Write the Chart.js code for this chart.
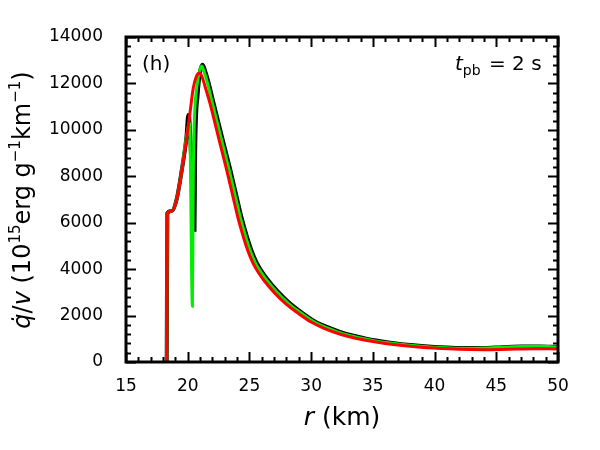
<!DOCTYPE html>
<html>
<head>
<meta charset="utf-8">
<script src="https://cdn.jsdelivr.net/npm/chart.js@4.4.0/dist/chart.umd.min.js"></script>
<style>
  html, body { margin: 0; padding: 0; background: #fff; }
</style>
</head>
<body>
<canvas id="grafico" width="600" height="450"></canvas>
<script>
// Radio (km) y q/v para cada curva, leidos a ojo de la figura
var rRojo = [18.3, 18.35, 18.7, 19.1, 19.5, 19.9, 20.2, 20.45, 20.7, 20.95, 21.13, 21.4, 21.8, 22.48, 23.16, 23.7, 24.1, 24.5, 24.9, 25.3, 25.7, 26.2, 27, 28, 29, 30, 31, 32, 33, 34, 35, 36, 38, 40, 42, 44, 46, 48, 50];
var qRojo = [0, 6400, 6500, 7000, 8200, 9600, 10800, 11800, 12300, 12450, 12330, 11880, 11150, 9700, 8270, 7050, 6150, 5400, 4750, 4250, 3880, 3500, 3000, 2480, 2080, 1720, 1460, 1260, 1100, 980, 880, 800, 680, 600, 545, 530, 550, 570, 565];

var rVerde = [18.3, 18.35, 18.7, 19.1, 19.5, 19.9, 20.15, 20.38, 20.45, 20.55, 20.75, 21.0, 21.13, 21.35, 21.6, 22.0, 22.68, 23.36, 23.9, 24.3, 24.7, 25.1, 25.5, 25.9, 26.4, 27.2, 28.2, 29.2, 30.2, 31.2, 32.2, 33.2, 34.2, 35.2, 36.2, 38.2, 40.2, 42, 44, 45.5, 47, 48.5, 50];
var qVerde = [0, 6400, 6500, 7000, 8200, 9700, 10300, 2400, 8000, 10500, 11900, 12600, 12750, 12470, 12020, 11150, 9700, 8270, 7050, 6150, 5400, 4750, 4250, 3900, 3520, 3020, 2500, 2100, 1740, 1490, 1290, 1130, 1010, 910, 830, 710, 630, 590, 600, 640, 670, 680, 650];

var rNegro = [18.3, 18.35, 18.7, 19.1, 19.5, 19.9, 20.05, 20.1, 20.55, 20.6, 20.8, 21.0, 21.2, 21.42, 21.67, 22.07, 22.75, 23.43, 23.97, 24.37, 24.77, 25.17, 25.57, 25.97, 26.47, 27.27, 28.27, 29.27, 30.27, 31.27, 32.27, 33.27, 34.27, 35.27, 36.27, 38.27, 40.27, 42, 44, 45.5, 47, 48.5, 50];
var qNegro = [0, 6400, 6500, 7000, 8200, 9700, 10640, 10600, 5700, 9000, 11500, 12500, 12800, 12520, 12070, 11200, 9750, 8320, 7100, 6200, 5450, 4800, 4290, 3930, 3550, 3050, 2530, 2120, 1760, 1510, 1310, 1150, 1030, 925, 845, 720, 640, 600, 605, 640, 665, 670, 645];

var ticksX = [15, 20, 25, 30, 35, 40, 45, 50];
var ticksY = [0, 2000, 4000, 6000, 8000, 10000, 12000, 14000];

function puntos(r, q) {
    return r.map(function (v, i) { return { x: v, y: q[i] }; });
}

var fuente = "'DejaVu Sans', sans-serif";

// Marco con marcas hacia adentro, textos y titulos de ejes
var marco = {
    id: "marco",
    afterDraw: function (chart) {
        var ctx = chart.ctx;
        var a = chart.chartArea;
        var sx = chart.scales.x;
        var sy = chart.scales.y;
        ctx.save();
        ctx.strokeStyle = "#000";
        ctx.lineWidth = 2;
        for (var v = 15; v <= 50; v += 1) {
            var px = Math.round(sx.getPixelForValue(v)) + 0.5;
            var L = (v % 5 === 0) ? 10 : 5;
            ctx.beginPath();
            ctx.moveTo(px, a.bottom); ctx.lineTo(px, a.bottom - L);
            ctx.moveTo(px, a.top); ctx.lineTo(px, a.top + L);
            ctx.stroke();
        }
        for (var w = 0; w <= 14000; w += 400) {
            var py = Math.round(sy.getPixelForValue(w)) + 0.5;
            var M = (w % 2000 === 0) ? 10 : 5;
            ctx.beginPath();
            ctx.moveTo(a.left, py); ctx.lineTo(a.left + M, py);
            ctx.moveTo(a.right, py); ctx.lineTo(a.right - M, py);
            ctx.stroke();
        }
        ctx.lineWidth = 3;
        ctx.strokeRect(a.left, a.top, a.right - a.left, a.bottom - a.top);

        ctx.fillStyle = "#000";
        ctx.textBaseline = "alphabetic";
        // (h)
        ctx.font = "20px " + fuente;
        ctx.textAlign = "left";
        ctx.fillText("(h)", 142, 70);
        // t_pb = 2 s
        var x0 = 455;
        ctx.font = "italic 20px " + fuente;
        ctx.fillText("t", x0, 70);
        x0 += ctx.measureText("t").width;
        ctx.font = "14px " + fuente;
        ctx.fillText("pb", x0, 75);
        x0 += ctx.measureText("pb").width + 2;
        ctx.font = "20px " + fuente;
        ctx.fillText(" = 2 s", x0, 70);

        // titulo eje x
        ctx.font = "italic 25px " + fuente;
        var w1 = ctx.measureText("r").width;
        ctx.font = "25px " + fuente;
        var w2 = ctx.measureText(" (km)").width;
        var xs = 342 - (w1 + w2) / 2;
        ctx.font = "italic 25px " + fuente;
        ctx.fillText("r", xs, 425);
        ctx.font = "25px " + fuente;
        ctx.fillText(" (km)", xs + w1, 425);

        // titulo eje y, rotado
        var partes = [
            ["italic 24px ", "q\u0307", 0],
            ["24px ", "/", 0],
            ["italic 24px ", "v", 0],
            ["24px ", " (10", 0],
            ["15px ", "15", -10],
            ["24px ", "erg g", 0],
            ["15px ", "\u22121", -10],
            ["24px ", "km", 0],
            ["15px ", "\u22121", -10],
            ["24px ", ")", 0]
        ];
        var total = 0;
        partes.forEach(function (p) { ctx.font = p[0] + fuente; total += ctx.measureText(p[1]).width; });
        ctx.translate(30, 200);
        ctx.rotate(-Math.PI / 2);
        var cx = -total / 2;
        partes.forEach(function (p) {
            ctx.font = p[0] + fuente;
            ctx.fillText(p[1], cx, p[2]);
            cx += ctx.measureText(p[1]).width;
        });
        ctx.restore();
    }
};

var ctx = document.getElementById("grafico").getContext("2d");
var grafico = new Chart(ctx, {
    type: "line",
    data: {
        datasets: [
            { data: puntos(rRojo, qRojo), borderColor: "#ff0000", borderWidth: 3 },
            { data: puntos(rVerde, qVerde), borderColor: "#00ee00", borderWidth: 3 },
            { data: puntos(rNegro, qNegro), borderColor: "#000000", borderWidth: 4 }
        ]
    },
    options: {
        responsive: false,
        animation: false,
        parsing: false,
        layout: { padding: { left: 0, right: 42, top: 37, bottom: 0 } },
        elements: {
            point: { radius: 0 },
            line: { cubicInterpolationMode: "monotone", fill: false }
        },
        plugins: {
            legend: { display: false },
            tooltip: { enabled: false }
        },
        scales: {
            x: {
                type: "linear",
                min: 15, max: 50,
                grid: { display: false },
                border: { display: false },
                afterFit: function (s) { s.height = 88; },
                afterBuildTicks: function (s) { s.ticks = ticksX.map(function (v) { return { value: v }; }); },
                ticks: { color: "#000", padding: 6, maxRotation: 0, font: { family: fuente, size: 17 },
                    callback: function (v) { return String(v); } }
            },
            y: {
                type: "linear",
                min: 0, max: 14000,
                grid: { display: false },
                border: { display: false },
                afterFit: function (s) { s.width = 126; },
                afterBuildTicks: function (s) { s.ticks = ticksY.map(function (v) { return { value: v }; }); },
                ticks: { color: "#000", padding: 15, font: { family: fuente, size: 17 },
                    callback: function (v) { return String(v); } }
            }
        }
    },
    plugins: [marco]
});
</script>
</body>
</html>
